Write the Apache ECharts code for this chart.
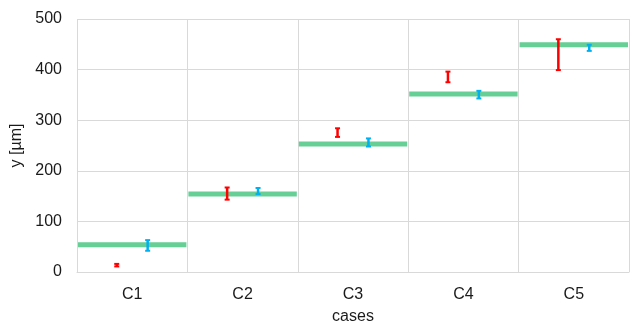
<!DOCTYPE html>
<html><head><meta charset="utf-8">
<script src="https://cdn.jsdelivr.net/npm/echarts@6/dist/echarts.min.js"></script>
<style>html,body{margin:0;padding:0;background:#fff}#c{width:634px;height:323px}</style>
</head><body><div id="c"></div>
<script>
const categories = ['C1', 'C2', 'C3', 'C4', 'C5'];
const yTicks = [0, 100, 200, 300, 400, 500];
const greenValues = [54, 154, 253, 352, 449];
const redLow = [11, 143, 267, 375, 399];
const redHigh = [16, 167, 284, 396, 460];
const blueLow = [42, 154, 248, 343, 437];
const blueHigh = [63, 166, 264, 358, 449];

const chart = echarts.init(document.getElementById('c'), null, {renderer: 'canvas'});
const font = 'Liberation Sans, Arial, sans-serif';
const textColor = '#1a1a1a';

function errRender(offsetFrac, color) {
  return function (params, api) {
    const x = api.value(0);
    const lo = api.coord([x, api.value(1)]);
    const hi = api.coord([x, api.value(2)]);
    const bw = api.size([1, 0])[0];
    const cx = lo[0] + offsetFrac * bw;
    return {
      type: 'group',
      children: [
        {type: 'line', shape: {x1: cx, y1: hi[1], x2: cx, y2: lo[1]}, style: {stroke: color, lineWidth: 2.5}},
        {type: 'line', shape: {x1: cx - 2.5, y1: hi[1], x2: cx + 2.5, y2: hi[1]}, style: {stroke: color, lineWidth: 2}},
        {type: 'line', shape: {x1: cx - 2.5, y1: lo[1], x2: cx + 2.5, y2: lo[1]}, style: {stroke: color, lineWidth: 2}}
      ]
    };
  };
}

function greenRender(params, api) {
  const x = api.value(0);
  const p = api.coord([x, api.value(1)]);
  const bw = api.size([1, 0])[0];
  return {
    type: 'line',
    shape: {x1: p[0] - bw / 2 + 1, y1: p[1], x2: p[0] + bw / 2 - 1, y2: p[1]},
    style: {stroke: '#66cf96', lineWidth: 5}
  };
}

const option = {
  animation: false,
  grid: {left: 77, right: 5, top: 19, bottom: 51, containLabel: false, outerBoundsMode: 'none'},
  xAxis: {
    type: 'category',
    data: categories,
    boundaryGap: true,
    name: 'cases',
    nameLocation: 'middle',
    nameGap: 37,
    nameTextStyle: {fontFamily: font, fontSize: 16, color: textColor},
    axisLine: {show: true, lineStyle: {color: '#d9d9d9'}},
    axisTick: {show: false},
    axisLabel: {fontFamily: font, fontSize: 16, color: textColor, margin: 15},
    splitLine: {show: true, interval: 0, lineStyle: {color: '#d9d9d9'}}
  },
  yAxis: {
    type: 'value',
    min: 0, max: 500, interval: 100,
    name: 'y [µm]',
    nameLocation: 'middle',
    nameGap: 49,
    nameTextStyle: {fontFamily: font, fontSize: 16, color: textColor},
    axisLine: {show: false},
    axisTick: {show: false},
    axisLabel: {fontFamily: font, fontSize: 16, color: textColor, margin: 15,
      formatter: function (v) { return yTicks.indexOf(v) >= 0 ? String(v) : ''; }},
    splitLine: {show: true, lineStyle: {color: '#d9d9d9'}}
  },
  series: [
    {type: 'custom', renderItem: greenRender, z: 2,
      data: categories.map((c, i) => [i, greenValues[i]])},
    {type: 'custom', renderItem: errRender(-0.14, '#ff0000'), z: 3,
      encode: {x: 0, y: [1, 2]},
      data: categories.map((c, i) => [i, redLow[i], redHigh[i]])},
    {type: 'custom', renderItem: errRender(0.14, '#00b0f0'), z: 3,
      encode: {x: 0, y: [1, 2]},
      data: categories.map((c, i) => [i, blueLow[i], blueHigh[i]])}
  ]
};
chart.setOption(option);
</script>
</body></html>
